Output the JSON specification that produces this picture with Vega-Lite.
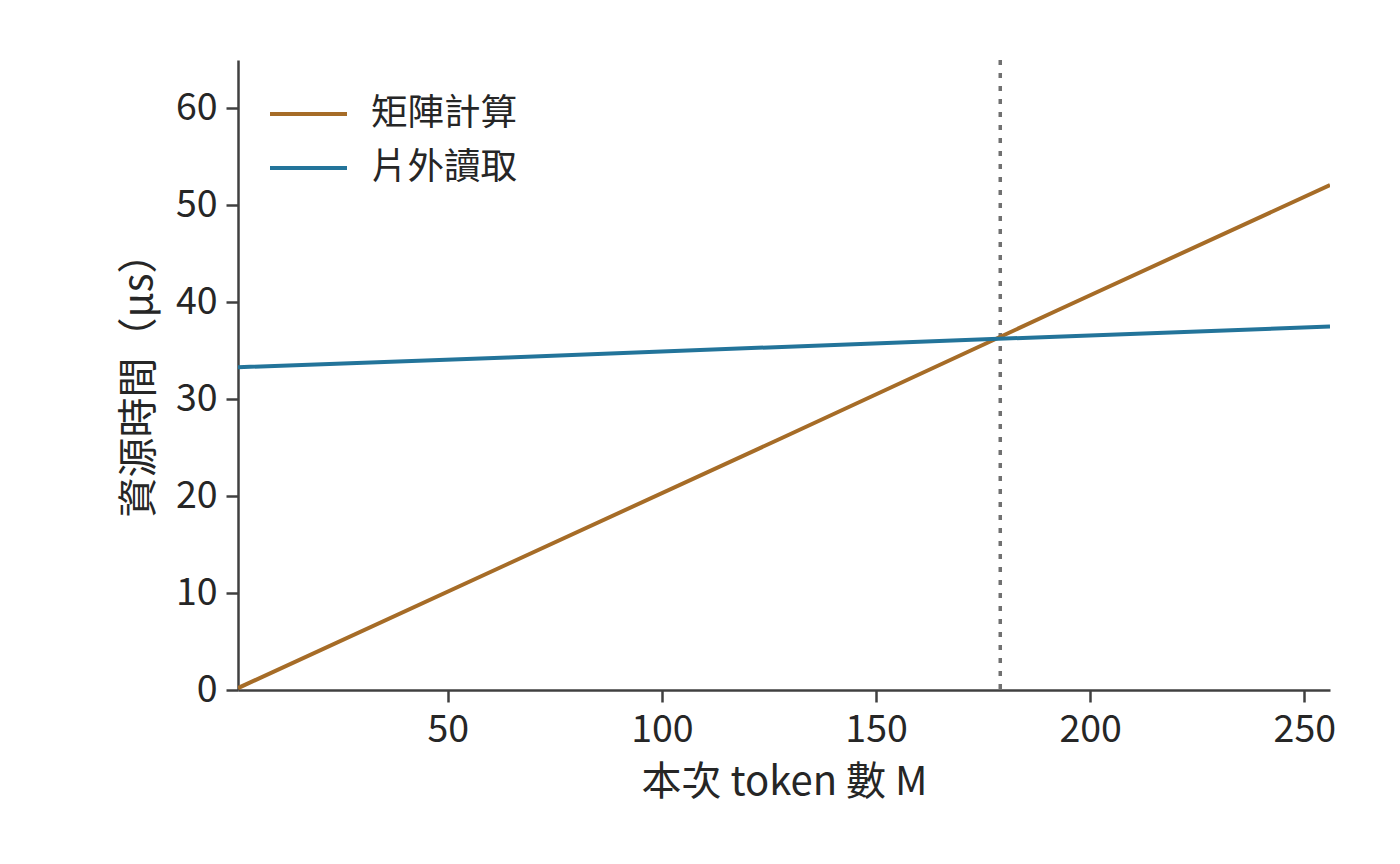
{
  "$schema": "https://vega.github.io/schema/vega-lite/v6.json",
  "width": 1092,
  "height": 630,
  "autosize": "none",
  "padding": {"left": 238, "top": 60, "right": 70, "bottom": 174},
  "background": "white",
  "datasets": {
    "lines": [
      {"M": 1, "time": 0.2, "series": "矩陣計算"},
      {"M": 64, "time": 13.0, "series": "矩陣計算"},
      {"M": 128, "time": 26.0, "series": "矩陣計算"},
      {"M": 192, "time": 39.1, "series": "矩陣計算"},
      {"M": 256, "time": 52.1, "series": "矩陣計算"},
      {"M": 1, "time": 33.3, "series": "片外讀取"},
      {"M": 64, "time": 34.3, "series": "片外讀取"},
      {"M": 128, "time": 35.4, "series": "片外讀取"},
      {"M": 192, "time": 36.45, "series": "片外讀取"},
      {"M": 256, "time": 37.5, "series": "片外讀取"}
    ],
    "cross": [{"M": 179}]
  },
  "layer": [
    {
      "data": {"name": "cross"},
      "mark": {"type": "rule", "color": "#707070", "strokeWidth": 3.5, "strokeDash": [5, 8]},
      "encoding": {
        "x": {"field": "M", "type": "quantitative", "scale": {"domain": [1, 256], "nice": false, "zero": false}}
      }
    },
    {
      "data": {"name": "lines"},
      "mark": {"type": "line", "strokeWidth": 4, "clip": true},
      "encoding": {
        "x": {
          "field": "M",
          "type": "quantitative",
          "title": "本次 token 數 M",
          "scale": {"domain": [1, 256], "nice": false, "zero": false},
          "axis": {"values": [50, 100, 150, 200, 250], "grid": false, "titlePadding": 14}
        },
        "y": {
          "field": "time",
          "type": "quantitative",
          "title": "資源時間（μs）",
          "scale": {"domain": [0, 65], "nice": false},
          "axis": {"values": [0, 10, 20, 30, 40, 50, 60], "grid": false, "titlePadding": 16}
        },
        "color": {
          "field": "series",
          "type": "nominal",
          "scale": {"domain": ["矩陣計算", "片外讀取"], "range": ["#a66c27", "#23749a"]},
          "legend": {
            "title": null,
            "orient": "none",
            "legendX": 30,
            "legendY": 27,
            "symbolType": "stroke",
            "symbolSize": 5929,
            "symbolStrokeWidth": 4,
            "labelFontSize": 36.5,
            "labelOffset": 22,
            "rowPadding": 0,
            "clipHeight": 54,
            "labelColor": "#262626"
          }
        }
      }
    }
  ],
  "config": {
    "font": "Noto Sans CJK TC",
    "view": {"stroke": null},
    "axis": {
      "domainColor": "#404040",
      "domainWidth": 2.5,
      "tickColor": "#404040",
      "tickWidth": 2.5,
      "tickSize": 12,
      "labelFontSize": 37.5,
      "labelColor": "#262626",
      "labelPadding": 9,
      "titleFontSize": 40,
      "titleFontWeight": "normal",
      "titleColor": "#262626"
    },
    "legend": {"labelFont": "Noto Sans CJK TC"}
  }
}
